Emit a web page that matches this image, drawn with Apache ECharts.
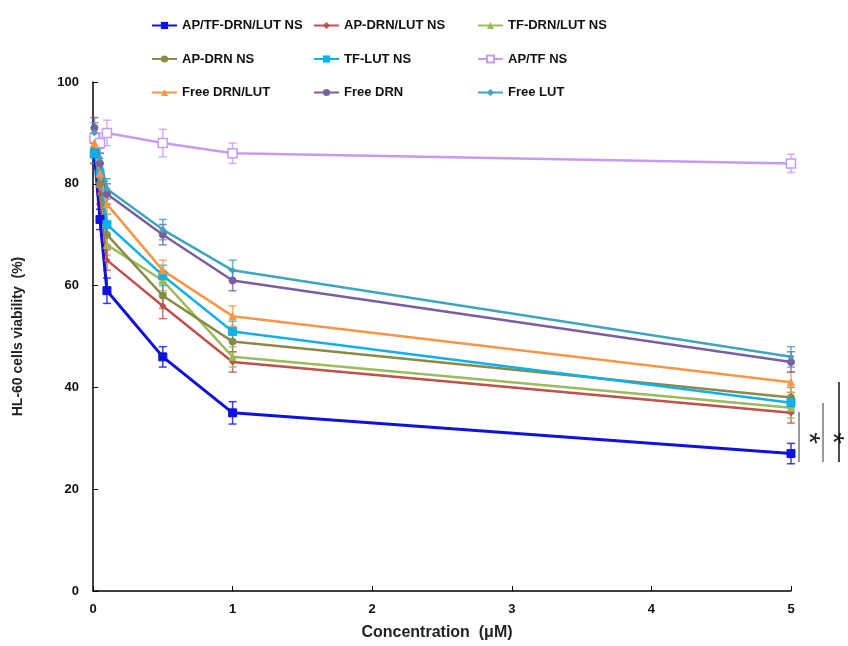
<!DOCTYPE html>
<html>
<head>
<meta charset="utf-8">
<script src="https://cdn.jsdelivr.net/npm/echarts@6/dist/echarts.min.js"></script>
<style>
html,body{margin:0;padding:0;background:#fff;overflow:hidden;}
#main{width:848px;height:646px;}
</style>
</head>
<body>
<div id="main"></div>
<script>
const xValues = [0.01, 0.05, 0.1, 0.5, 1, 5];
const xTicks = [0, 1, 2, 3, 4, 5];
const yTicks = [0, 20, 40, 60, 80, 100];

const names = ['AP/TF-DRN/LUT NS', 'AP-DRN/LUT NS', 'TF-DRN/LUT NS',
               'AP-DRN NS', 'TF-LUT NS', 'AP/TF NS',
               'Free DRN/LUT', 'Free DRN', 'Free LUT'];

const apTfDrnLut = [86, 73, 59, 46, 35, 27];
const apDrnLut   = [88, 78, 65, 56, 45, 35];
const tfDrnLut   = [89, 80, 68, 61, 46, 36];
const apDrn      = [87, 80, 70, 58, 49, 38];
const tfLut      = [86, 82, 72, 62, 51, 37];
const apTf       = [89, 88, 90, 88, 86, 84];
const freeDrnLut = [88, 82, 76, 63, 54, 41];
const freeDrn    = [91, 84, 78, 70, 61, 45];
const freeLut    = [90, 85, 79, 71, 63, 46];

const errApTfDrnLut = [2, 2, 2.5, 2, 2.2, 2];
const errApDrnLut   = [2, 2, 2, 2.5, 2, 2];
const errTfDrnLut   = [2, 2, 2, 2, 2, 2];
const errApDrn      = [2, 2, 2, 2.5, 2, 2];
const errTfLut      = [2, 2, 2, 2, 2, 2];
const errApTf       = [2, 2, 2.5, 2.7, 2, 1.8];
const errFreeDrnLut = [2, 2, 2, 2, 2, 2];
const errFreeDrn    = [2, 2, 2, 2, 2, 2];
const errFreeLut    = [2, 2, 2, 2, 2, 2];

const values = [apTfDrnLut, apDrnLut, tfDrnLut, apDrn, tfLut, apTf, freeDrnLut, freeDrn, freeLut];
const errors = [errApTfDrnLut, errApDrnLut, errTfDrnLut, errApDrn, errTfLut, errApTf, errFreeDrnLut, errFreeDrn, errFreeLut];

const colors = ['#1010E0', '#C0504D', '#9BBB59', '#8A8A48', '#0FB0EC', '#C79BF2', '#F79646', '#7A5EA0', '#3FA4BE'];
const symbols = ['rect', 'diamond', 'triangle', 'circle', 'rect', 'rect', 'triangle', 'circle', 'diamond'];
const symbolSizes = [8, 6, 7, 7, 8, 9, 7, 7, 6];
const lineWidths = [3, 2.5, 2.5, 2.5, 2.5, 2.5, 2.5, 2.5, 2.5];

const series = [];
names.forEach((n, k) => {
  series.push({
    name: 'err' + k,
    type: 'custom',
    silent: true,
    z: 1,
    data: xValues.map((x, i) => [x, values[k][i], errors[k][i]]),
    encode: { x: 0, y: 1 },
    renderItem: function (params, api) {
      const x = api.value(0), y = api.value(1), e = api.value(2);
      const top = api.coord([x, y + e]);
      const bot = api.coord([x, y - e]);
      const w = 4;
      const st = { stroke: colors[k], lineWidth: 1.5, opacity: 0.8 };
      return {
        type: 'group',
        children: [
          { type: 'line', shape: { x1: top[0], y1: top[1], x2: bot[0], y2: bot[1] }, style: st },
          { type: 'line', shape: { x1: top[0] - w, y1: top[1], x2: top[0] + w, y2: top[1] }, style: st },
          { type: 'line', shape: { x1: bot[0] - w, y1: bot[1], x2: bot[0] + w, y2: bot[1] }, style: st }
        ]
      };
    }
  });
});
names.forEach((n, k) => {
  const hollow = n === 'AP/TF NS';
  series.push({
    name: n,
    type: 'line',
    z: 3,
    data: xValues.map((x, i) => [x, values[k][i]]),
    symbol: symbols[k],
    symbolSize: symbolSizes[k],
    showSymbol: true,
    lineStyle: { color: colors[k], width: lineWidths[k] },
    itemStyle: hollow ? { color: '#fff', borderColor: colors[k], borderWidth: 1.5 } : { color: colors[k], borderColor: colors[k] },
    color: colors[k]
  });
});

const legendText = { fontFamily: 'Liberation Sans', fontWeight: 'bold', fontSize: 13, color: '#111' };
function mkLegend(list, left) {
  return {
    data: list,
    orient: 'vertical',
    left: left,
    top: 14,
    itemGap: 20.5,
    itemWidth: 25,
    itemHeight: 9,
    textStyle: legendText,
    selectedMode: false
  };
}

const chart = echarts.init(document.getElementById('main'));
chart.setOption({
  animation: false,
  backgroundColor: '#fff',
  legend: [
    mkLegend([names[0], names[3], names[6]], 146),
    mkLegend([names[1], names[4], names[7]], 308),
    mkLegend([names[2], names[5], names[8]], 472)
  ],
  grid: { left: 93, right: 57, top: 82, bottom: 50, containLabel: false },
  xAxis: {
    type: 'value', min: 0, max: 5, interval: 1,
    name: 'Concentration  (μM)', nameLocation: 'middle', nameGap: 34,
    nameTextStyle: { fontFamily: 'Liberation Sans', fontWeight: 'bold', fontSize: 16, color: '#222', padding: [0, 10, 0, 0] },
    axisLine: { lineStyle: { color: '#000', width: 1.5 } },
    axisTick: { inside: true, length: 5, lineStyle: { color: '#000' } },
    axisLabel: { fontFamily: 'Liberation Sans', fontWeight: 'bold', fontSize: 13, color: '#111', margin: 12 },
    splitLine: { show: false }
  },
  yAxis: {
    type: 'value', min: 0, max: 100, interval: 20,
    name: 'HL-60 cells viability  (%)', nameLocation: 'middle', nameGap: 68,
    nameTextStyle: { fontFamily: 'Liberation Sans', fontWeight: 'bold', fontSize: 14, color: '#222' },
    axisLine: { show: true, lineStyle: { color: '#000', width: 1.5 } },
    axisTick: { show: true, inside: true, length: 5, lineStyle: { color: '#000' } },
    axisLabel: { fontFamily: 'Liberation Sans', fontWeight: 'bold', fontSize: 13, color: '#111', margin: 14 },
    splitLine: { show: false }
  },
  graphic: [
    { type: 'line', shape: { x1: 799, y1: 412, x2: 799, y2: 462 }, style: { stroke: '#555', lineWidth: 1.2 } },
    { type: 'text', x: 808, y: 438, rotation: -Math.PI / 2, style: { text: '*', fontSize: 30, fontFamily: 'Liberation Sans', fill: '#222', align: 'center', verticalAlign: 'middle' } },
    { type: 'line', shape: { x1: 823, y1: 403, x2: 823, y2: 462 }, style: { stroke: '#555', lineWidth: 1.2 } },
    { type: 'text', x: 832, y: 438, rotation: -Math.PI / 2, style: { text: '*', fontSize: 30, fontFamily: 'Liberation Sans', fill: '#222', align: 'center', verticalAlign: 'middle' } },
    { type: 'line', shape: { x1: 839, y1: 382, x2: 839, y2: 462 }, style: { stroke: '#111', lineWidth: 1.5 } },
    { type: 'text', x: 848, y: 402, rotation: -Math.PI / 2, style: { text: '*', fontSize: 30, fontFamily: 'Liberation Sans', fill: '#222', align: 'center', verticalAlign: 'middle' } }
  ],
  series: series
});
</script>
</body>
</html>
